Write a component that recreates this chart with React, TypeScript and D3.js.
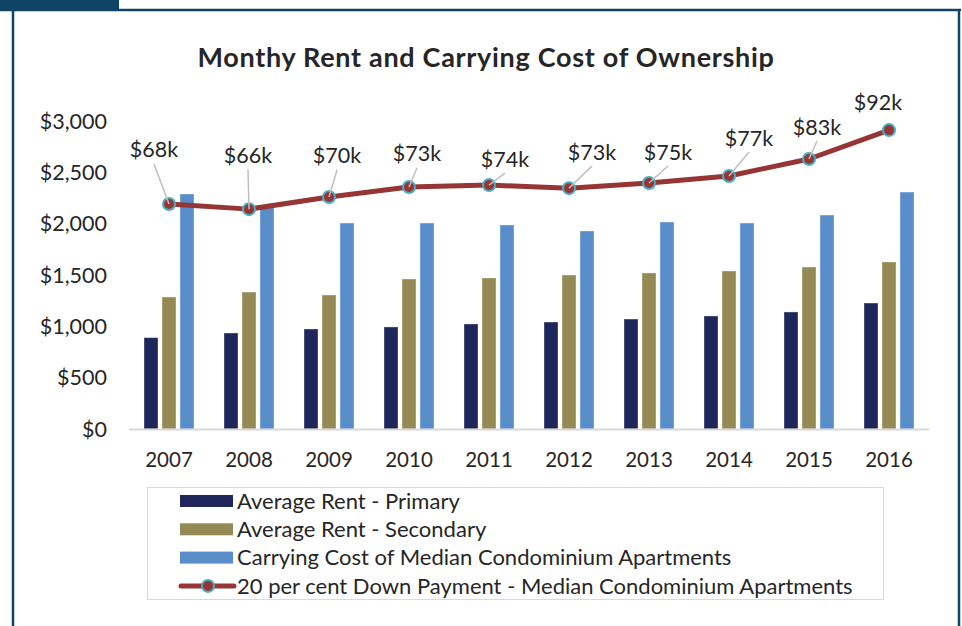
import { useEffect, useRef } from "react";
import * as d3 from "d3";

// ---------------------------------------------------------------------------
// Data
// ---------------------------------------------------------------------------

const YEARS = ["2007", "2008", "2009", "2010", "2011", "2012", "2013", "2014", "2015", "2016"];

const RENT_PRIMARY = [890, 935, 974, 994, 1023, 1042, 1071, 1101, 1140, 1227];
const RENT_SECONDARY = [1286, 1334, 1305, 1461, 1471, 1500, 1520, 1539, 1578, 1627];
const CARRYING_COST = [2289, 2175, 2006, 2006, 1987, 1929, 2016, 2006, 2084, 2308];

// down payment in $k (secondary, hidden axis)
const DOWN_PAYMENT = [67.7, 66.0, 70.0, 73.3, 73.9, 72.9, 74.6, 76.9, 82.5, 92.0];
const DOWN_PAYMENT_LABELS = ["$68k", "$66k", "$70k", "$73k", "$74k", "$73k", "$75k", "$77k", "$83k", "$92k"];

const Y_TICKS = [0, 500, 1000, 1500, 2000, 2500, 3000];

const SERIES = [
  { key: "primary", name: "Average Rent - Primary", values: RENT_PRIMARY, color: "#1f275a" },
  { key: "secondary", name: "Average Rent - Secondary", values: RENT_SECONDARY, color: "#948a54" },
  { key: "carrying", name: "Carrying Cost of Median Condominium Apartments", values: CARRYING_COST, color: "#588dca" },
];
const LINE_NAME = "20 per cent Down Payment - Median Condominium Apartments";

// label placement (text centre relative to the point), excel-style manual nudges
const LABEL_NUDGE: [number, number, boolean][] = [
  [-15, -54, true],
  [-1, -54, true],
  [8, -41, true],
  [8, -33, true],
  [16, -26, true],
  [23, -36, true],
  [19, -31, true],
  [20, -38, true],
  [8, -32, true],
  [-11, -28, false],
];

const FONT = "Lato, 'Open Sans', sans-serif";
const FRAME = "#0f4466";
const LINE_RED = "#963634";
const DOT_RING = "#4bacc6";
const TEXT = "#262626";

export default function App() {
  const svgRef = useRef<SVGSVGElement>(null);
  const width = 962;
  const height = 626;

  useEffect(() => {
    const svg = d3.select(svgRef.current);
    svg.selectAll("*").remove();

    // ---- frame ----
    svg.append("rect").attr("width", width).attr("height", height).attr("fill", "#fff");
    svg.append("rect").attr("x", 0).attr("y", 0).attr("width", 119).attr("height", 11).attr("fill", FRAME);
    svg.append("line").attr("x1", 0).attr("x2", 961).attr("y1", 10).attr("y2", 10)
      .attr("stroke", FRAME).attr("stroke-width", 2.5);
    svg.append("line").attr("x1", 13).attr("x2", 13).attr("y1", 10).attr("y2", height)
      .attr("stroke", FRAME).attr("stroke-width", 2.5);
    svg.append("line").attr("x1", 959).attr("x2", 959).attr("y1", 10).attr("y2", height)
      .attr("stroke", FRAME).attr("stroke-width", 2.5);

    // ---- title ----
    svg.append("text")
      .attr("x", 486).attr("y", 67)
      .attr("text-anchor", "middle")
      .attr("font-family", FONT).attr("font-weight", 700).attr("font-size", 27)
      .attr("letter-spacing", 0.7)
      .attr("fill", TEXT)
      .text("Monthy Rent and Carrying Cost of Ownership");

    // ---- scales ----
    const x = d3.scaleBand().domain(YEARS).range([129, 929]);
    const xInner = d3.scaleBand()
      .domain(SERIES.map((s) => s.key))
      .range([-27, 27])
      .paddingInner(4 / 18)
      .paddingOuter(2 / 18);
    const y = d3.scaleLinear().domain([0, 3000]).range([429, 121]);
    const y2 = d3.scaleLinear().domain([-6.35, 95]).range([429, 121]);
    const cx = (yr: string) => x(yr)! + x.bandwidth() / 2;

    // ---- y axis labels ----
    svg.append("g")
      .selectAll("text")
      .data(Y_TICKS)
      .join("text")
      .attr("x", 107)
      .attr("y", (d) => y(d))
      .attr("dy", "0.35em")
      .attr("text-anchor", "end")
      .attr("font-family", FONT).attr("font-size", 21.5).attr("fill", TEXT)
      .text((d) => "$" + d3.format(",")(d));

    // ---- bars ----
    SERIES.forEach((s) => {
      svg.append("g")
        .selectAll("rect")
        .data(s.values)
        .join("rect")
        .attr("x", (_d, i) => cx(YEARS[i]) + xInner(s.key)!)
        .attr("y", (d) => y(d))
        .attr("width", xInner.bandwidth())
        .attr("height", (d) => y(0) - y(d))
        .attr("fill", s.color)
        .attr("stroke", "#ffffff")
        .attr("stroke-opacity", 0.35)
        .attr("stroke-width", 1);
    });

    // ---- x axis ----
    svg.append("line")
      .attr("x1", 129).attr("x2", 929).attr("y1", y(0) + 0.5).attr("y2", y(0) + 0.5)
      .attr("stroke", "#d9d9d9").attr("stroke-width", 2);

    svg.append("g")
      .selectAll("text")
      .data(YEARS)
      .join("text")
      .attr("x", (d) => cx(d))
      .attr("y", 467)
      .attr("text-anchor", "middle")
      .attr("font-family", FONT).attr("font-size", 20.5).attr("fill", TEXT)
      .text((d) => d);

    // ---- down payment line ----
    const line = d3.line<number>()
      .x((_d, i) => cx(YEARS[i]))
      .y((d) => y2(d));

    svg.append("path")
      .datum(DOWN_PAYMENT)
      .attr("d", line)
      .attr("fill", "none")
      .attr("stroke", LINE_RED)
      .attr("stroke-width", 5)
      .attr("stroke-linejoin", "round");

    svg.append("g")
      .selectAll("circle")
      .data(DOWN_PAYMENT)
      .join("circle")
      .attr("cx", (_d, i) => cx(YEARS[i]))
      .attr("cy", (d) => y2(d))
      .attr("r", 6)
      .attr("fill", LINE_RED)
      .attr("stroke", DOT_RING)
      .attr("stroke-width", 2);

    // leader lines
    svg.append("g")
      .selectAll("line")
      .data(DOWN_PAYMENT.map((d, i) => ({ d, i })).filter((p) => LABEL_NUDGE[p.i][2]))
      .join("line")
      .attr("x1", (p) => cx(YEARS[p.i]) + LABEL_NUDGE[p.i][0])
      .attr("y1", (p) => y2(p.d) + LABEL_NUDGE[p.i][1] + 14)
      .attr("x2", (p) => cx(YEARS[p.i]))
      .attr("y2", (p) => y2(p.d))
      .attr("stroke", "#bfbfbf")
      .attr("stroke-width", 1.5);

    svg.append("g")
      .selectAll("text")
      .data(DOWN_PAYMENT)
      .join("text")
      .attr("x", (_d, i) => cx(YEARS[i]) + LABEL_NUDGE[i][0])
      .attr("y", (d, i) => y2(d) + LABEL_NUDGE[i][1])
      .attr("dy", "0.35em")
      .attr("text-anchor", "middle")
      .attr("font-family", FONT).attr("font-size", 21.5).attr("fill", TEXT)
      .text((_d, i) => DOWN_PAYMENT_LABELS[i]);

    // ---- legend ----
    const lg = svg.append("g");
    lg.append("rect")
      .attr("x", 147.5).attr("y", 487.5).attr("width", 736).attr("height", 112)
      .attr("fill", "none").attr("stroke", "#d9d9d9").attr("stroke-width", 1);

    const rowY = (i: number) => 501 + i * 28.3;
    SERIES.forEach((s, i) => {
      lg.append("rect")
        .attr("x", 180).attr("y", rowY(i) - 6).attr("width", 53).attr("height", 12)
        .attr("fill", s.color);
      lg.append("text")
        .attr("x", 237).attr("y", rowY(i)).attr("dy", "0.35em")
        .attr("font-family", FONT).attr("font-size", 22).attr("fill", TEXT)
        .text(s.name);
    });
    const ly = rowY(3);
    lg.append("line").attr("x1", 181).attr("x2", 234).attr("y1", ly).attr("y2", ly)
      .attr("stroke", LINE_RED).attr("stroke-width", 5).attr("stroke-linecap", "round");
    lg.append("circle").attr("cx", 208).attr("cy", ly).attr("r", 6)
      .attr("fill", LINE_RED).attr("stroke", DOT_RING).attr("stroke-width", 2);
    lg.append("text")
      .attr("x", 237).attr("y", ly).attr("dy", "0.35em")
      .attr("font-family", FONT).attr("font-size", 22).attr("fill", TEXT)
      .text(LINE_NAME);
  }, []);

  return (
    <div style={{ position: "absolute", left: 0, top: 0 }}>
      <svg ref={svgRef} width={width} height={height} style={{ display: "block" }} />
    </div>
  );
}
